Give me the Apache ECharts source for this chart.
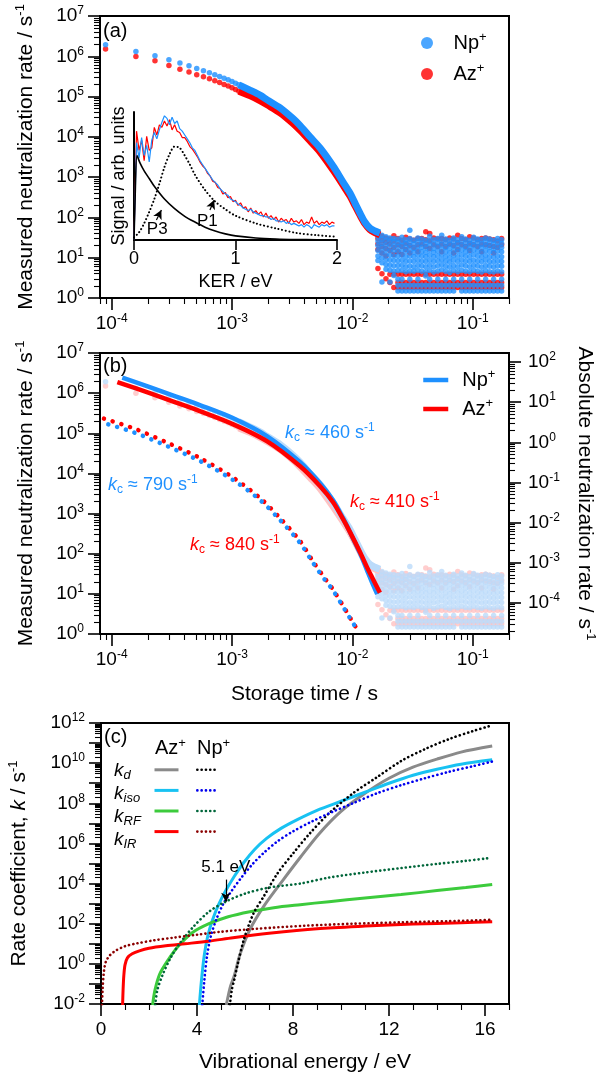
<!DOCTYPE html>
<html>
<head>
<meta charset="utf-8">
<script src="https://cdn.jsdelivr.net/npm/echarts@6/dist/echarts.min.js"></script>
<style>
    html, body { margin: 0; padding: 0; background: #fff; }
    #chart { width: 609px; height: 1080px; }
</style>
</head>
<body>
<div id="chart"></div>
<script>
const FONT = "Liberation Sans, Arial, sans-serif";
const BLACK = "#000";
const NP = "#1E90FF";
const AZ = "#FF0000";
const NP_LIGHT = "#BBDBFA";
const AZ_LIGHT = "#FFC2C2";

// ---- (a)/(b) measured neutralization rate vs storage time ----
const earlyTimes = [8.9e-5, 1.59e-4, 2.29e-4, 2.99e-4, 3.69e-4, 4.39e-4, 5.09e-4, 5.79e-4, 6.49e-4, 7.19e-4, 7.89e-4, 8.59e-4, 9.29e-4, 9.99e-4, 1.069e-3, 1.139e-3];
const npEarly = [1.93e6, 1.32e6, 1.03e6, 8.2e5, 6.8e5, 5.8e5, 4.94e5, 4.36e5, 3.89e5, 3.5e5, 3.13e5, 2.85e5, 2.6e5, 2.38e5, 2.15e5, 1.96e5];
const azEarly = [1.51e6, 9.9e5, 7.7e5, 5.9e5, 4.8e5, 4.1e5, 3.47e5, 3.09e5, 2.76e5, 2.48e5, 2.22e5, 2.0e5, 1.82e5, 1.66e5, 1.5e5, 1.36e5];

const bandTimes = [1.139e-3, 1.42e-3, 1.72e-3, 1.96e-3, 2.51e-3, 3.22e-3, 3.68e-3, 4.45e-3, 5.39e-3, 6.91e-3, 8.36e-3, 9.55e-3, 1.051e-2, 1.156e-2, 1.272e-2, 1.399e-2, 1.539e-2, 1.693e-2];
const npBand = [1.96e5, 1.43e5, 1.07e5, 8.28e4, 5.24e4, 2.82e4, 1.9e4, 9.95e3, 5.3e3, 1.89e3, 755, 402, 227, 128, 76, 54, 46, 41];
const azBand = [1.36e5, 1.04e5, 7.81e4, 6.22e4, 3.94e4, 2.14e4, 1.45e4, 7.91e3, 4.21e3, 1.5e3, 636, 339, 197, 114, 70, 50, 42, 37];

// background-limited tail: one column of rates per time bin
const noiseTimes = [0.0163, 0.0176, 0.0190, 0.0205, 0.0221, 0.0239, 0.0258, 0.0278, 0.0300, 0.0324, 0.0350, 0.0377, 0.0407, 0.0439, 0.0474, 0.0512, 0.0552, 0.0596, 0.0643, 0.0694, 0.0750, 0.0809, 0.0873, 0.0943, 0.1017, 0.1098, 0.1185, 0.1279, 0.1380, 0.1490, 0.1608, 0.1736];
const npNoise = [
    [41, 33, 26, 20, 15, 11, 8.5],
    [36, 29, 23, 18, 13.5, 10, 7.5, 2.5],
    [33, 27, 21, 16, 12, 9, 6.8, 5.2],
    [31, 26, 20, 15, 11.5, 8.7, 6.5, 4.9, 2.5],
    [30, 25, 19.5, 15, 11.2, 8.5, 6.3, 4.7, 3.6],
    [29, 24, 19, 14.5, 11, 8.4, 6.4, 4.8, 2.9, 2.07, 1.49],
    [32, 25, 20, 15.4, 11.5, 8.7, 6.5, 4.9, 2.9, 2.07, 1.49],
    [28, 23, 18, 14, 10.5, 8, 6, 4.5, 2.07, 1.49],
    [48, 30, 24, 19, 14.5, 11, 8.3, 6.2, 4.7, 2.9, 2.07, 1.49],
    [27, 22, 17, 13.5, 10.5, 8, 6, 4.6, 2.07, 1.49],
    [31, 25, 19.5, 15, 11.5, 8.7, 6.5, 4.9, 2.9, 2.07, 1.49],
    [29, 23, 18, 14, 10.8, 8.2, 6.2, 4.6, 2.07, 1.49],
    [27, 22, 17.5, 13.5, 10.5, 8, 6, 4.5, 3.5, 2.07, 1.49],
    [34, 26, 20.5, 15.4, 11.5, 8.7, 6.5, 4.9, 2.9, 2.07, 1.49],
    [28, 22, 17, 13.5, 10.5, 8, 6, 4.4, 2.07, 1.49],
    [30, 24, 19, 14.5, 11, 8.4, 6.3, 4.7, 2.9, 2.07, 1.49],
    [36, 27, 21, 16, 12, 9, 6.8, 5, 2.07, 1.49],
    [29, 23, 18, 14, 10.7, 8.2, 6.1, 4.6, 2.9, 2.07, 1.49],
    [27, 21.5, 17, 13, 10, 7.7, 5.8, 4.3, 2.07, 1.49],
    [31, 25, 19.5, 15, 11.4, 8.6, 6.4, 4.8, 2.9, 2.07, 1.49],
    [28, 23, 18, 14, 10.6, 8, 6, 4.5, 2.07],
    [33, 26, 20, 15.4, 11.6, 8.8, 6.6, 4.9, 2.9, 2.07, 1.49],
    [29, 23, 18, 14, 10.8, 8.2, 6.2, 4.6, 2.07, 1.49],
    [27, 22, 17.5, 13.6, 10.4, 8, 6, 4.5, 2.9, 2.07, 1.49],
    [32, 25, 20, 15.4, 11.6, 8.7, 6.5, 4.9, 2.07, 1.49],
    [29, 23.5, 18.5, 14.2, 10.8, 8.2, 6.2, 4.6, 2.9, 2.07, 1.49],
    [28, 22, 17.5, 13.5, 10.3, 7.9, 5.9, 4.4, 2.07, 1.49],
    [31, 24.5, 19.5, 15, 11.3, 8.6, 6.4, 4.8, 2.9, 2.07, 1.49],
    [29, 23, 18, 14, 10.6, 8.1, 6.1, 4.5, 2.07, 1.49],
    [27, 22, 17, 13.4, 10.2, 7.8, 5.9, 4.4, 2.9, 2.07, 1.49],
    [30, 24, 19, 14.6, 11, 8.4, 6.3, 4.7, 2.07, 1.49],
    [28, 22.5, 18, 14, 10.6, 8.1, 6.1, 4.5, 2.9, 2.07, 1.49]
];
const azNoise = [
    [38, 30, 22, 16, 5.4],
    [34, 26, 19, 13, 4.0],
    [31, 24, 17, 11, 3.0],
    [29, 22, 15, 3.9, 2.42],
    [35, 26, 18, 12, 3.9, 1.81],
    [30, 21, 14, 3.9, 2.42, 1.81],
    [27, 19, 12, 3.9, 2.42, 1.81],
    [32, 23, 16, 3.9, 2.42, 1.81],
    [29, 20, 13, 3.9, 2.42, 1.81],
    [27, 18, 3.9, 2.42, 1.81],
    [30, 21, 14, 3.9, 2.42, 1.81],
    [30, 22, 3.9, 2.42, 1.81],
    [44, 28, 19, 3.9, 2.42, 1.81],
    [40, 26, 17, 3.9, 2.42, 1.81],
    [31, 21, 3.9, 2.42, 1.81],
    [29, 19, 3.9, 2.42, 1.81],
    [30, 22, 14, 3.9, 2.42, 1.81],
    [28, 19, 3.9, 2.42, 1.81],
    [31, 22, 3.9, 2.42, 1.81],
    [29, 20, 13, 3.9, 2.42, 1.81],
    [36, 24, 16, 3.9, 2.42, 1.81],
    [30, 21, 3.9, 2.42, 1.81],
    [28, 19, 3.9, 2.42, 1.81],
    [33, 23, 15, 3.9, 2.42, 1.81],
    [31, 21, 3.9, 2.42, 1.81],
    [28, 19, 3.9, 2.42, 1.81],
    [30, 22, 14, 3.9, 2.42, 1.81],
    [31, 21, 3.9, 2.42, 1.81],
    [29, 20, 3.9, 2.42, 1.81],
    [28, 19, 13, 3.9, 2.42, 1.81],
    [26, 18, 3.9, 2.42, 1.81],
    [30, 21, 3.9, 2.42, 1.81]
];

// (b) fitted curves
const npFitT = [1.226e-4, 2.10e-4, 3.39e-4, 5.46e-4, 1.025e-3, 1.96e-3, 3.68e-3, 5.39e-3, 6.91e-3, 8.36e-3, 9.55e-3, 1.156e-2, 1.321e-2, 1.453e-2, 1.608e-2];
const npFitR = [2.43e6, 1.39e6, 8.32e5, 4.98e5, 2.36e5, 8.42e4, 1.90e4, 5.70e3, 2.15e3, 768, 345, 103, 39.1, 19.7, 9.89];
const azFitT = [1.115e-4, 2.10e-4, 3.39e-4, 5.46e-4, 1.025e-3, 1.96e-3, 3.68e-3, 5.39e-3, 6.91e-3, 8.36e-3, 9.55e-3, 1.156e-2, 1.321e-2, 1.481e-2, 1.693e-2];
const azFitR = [1.89e6, 9.89e5, 5.90e5, 3.52e5, 1.67e5, 6.32e4, 1.51e4, 4.81e3, 1.92e3, 726, 345, 110, 46.4, 23.4, 10.6];
const kcTimes = [8.63e-5, 1.52e-4, 2.91e-4, 5.46e-4, 1.025e-3, 1.716e-3, 2.51e-3, 3.68e-3, 4.72e-3, 5.93e-3, 6.78e-3, 8.20e-3, 9.19e-3, 1.012e-2, 1.119e-2];
const npKc = [1.80e5, 1.06e5, 4.75e4, 2.01e4, 6.78e3, 2.15e3, 685, 184, 58.3, 22.0, 13.2, 5.27, 2.97, 1.88, 1.12];
const azKc = [2.32e5, 1.33e5, 5.80e4, 2.39e4, 7.82e3, 2.42e3, 768, 206, 63.6, 24.0, 13.9, 5.58, 3.14, 1.93, 1.19];

// inset: KER spectra (arb. units)
const kerSpec = [0, 0.025, 0.05, 0.075, 0.1, 0.125, 0.15, 0.175, 0.2, 0.225, 0.25, 0.275, 0.3, 0.325, 0.35, 0.375, 0.4, 0.425, 0.45, 0.475, 0.5, 0.525, 0.55, 0.575, 0.6, 0.625, 0.65, 0.675, 0.7, 0.725, 0.75, 0.775, 0.8, 0.825, 0.85, 0.875, 0.9, 0.925, 0.95, 0.975, 1.0, 1.025, 1.05, 1.075, 1.1, 1.125, 1.15, 1.175, 1.2, 1.225, 1.25, 1.275, 1.3, 1.325, 1.35, 1.375, 1.4, 1.425, 1.45, 1.475, 1.5, 1.525, 1.55, 1.575, 1.6, 1.625, 1.65, 1.675, 1.7, 1.725, 1.75, 1.775, 1.8, 1.825, 1.85, 1.875, 1.9, 1.925, 1.95, 1.975];
const npSpec = [0, 0.76, 0.64, 0.80, 0.66, 0.74, 0.61, 0.78, 0.84, 0.79, 0.86, 0.92, 0.97, 0.95, 0.90, 0.96, 0.91, 0.93, 0.87, 0.85, 0.82, 0.79, 0.76, 0.72, 0.70, 0.66, 0.62, 0.59, 0.56, 0.53, 0.50, 0.47, 0.45, 0.43, 0.40, 0.38, 0.36, 0.35, 0.32, 0.31, 0.30, 0.28, 0.27, 0.25, 0.24, 0.23, 0.24, 0.22, 0.21, 0.20, 0.19, 0.19, 0.18, 0.18, 0.16, 0.17, 0.15, 0.15, 0.14, 0.15, 0.13, 0.14, 0.12, 0.13, 0.12, 0.11, 0.12, 0.10, 0.12, 0.11, 0.09, 0.12, 0.11, 0.10, 0.12, 0.11, 0.12, 0.10, 0.11, 0.11];
const azSpec = [0, 0.85, 0.70, 0.78, 0.62, 0.81, 0.70, 0.72, 0.88, 0.82, 0.90, 0.88, 0.93, 0.89, 0.94, 0.86, 0.90, 0.85, 0.84, 0.80, 0.80, 0.77, 0.73, 0.71, 0.68, 0.65, 0.61, 0.58, 0.56, 0.52, 0.50, 0.46, 0.45, 0.41, 0.40, 0.36, 0.37, 0.33, 0.34, 0.30, 0.31, 0.27, 0.29, 0.25, 0.26, 0.22, 0.25, 0.21, 0.23, 0.20, 0.22, 0.18, 0.21, 0.17, 0.19, 0.16, 0.18, 0.14, 0.17, 0.15, 0.16, 0.13, 0.17, 0.14, 0.15, 0.13, 0.16, 0.12, 0.14, 0.13, 0.18, 0.13, 0.15, 0.12, 0.14, 0.13, 0.15, 0.12, 0.14, 0.13];
const kerP3 = [0, 0.01, 0.03, 0.06, 0.1, 0.15, 0.2, 0.3, 0.4, 0.5, 0.6, 0.7, 0.8, 0.9, 1.0, 1.2, 1.4, 1.6, 1.8, 2.0];
const p3Curve = [0, 0.3, 0.66, 0.60, 0.54, 0.48, 0.42, 0.32, 0.245, 0.185, 0.14, 0.10, 0.07, 0.048, 0.032, 0.016, 0.008, 0.004, 0.002, 0.001];
const kerP1 = [0, 0.05, 0.1, 0.15, 0.2, 0.25, 0.3, 0.35, 0.4, 0.45, 0.5, 0.55, 0.6, 0.7, 0.8, 0.9, 1.0, 1.2, 1.4, 1.6, 1.8, 2.0];
const p1Curve = [0.02, 0.06, 0.13, 0.22, 0.32, 0.44, 0.57, 0.67, 0.73, 0.72, 0.66, 0.59, 0.51, 0.39, 0.30, 0.24, 0.19, 0.13, 0.09, 0.055, 0.038, 0.025];

// ---- (c) rate coefficients, log10(k / s^-1) vs vibrational energy (eV) ----
const kdAzE = [5.22, 5.3, 5.4, 5.55, 5.8, 6.2, 6.8, 7.6, 8.3, 9.1, 10, 11, 12, 13, 14, 15, 16.3];
const kdAzLog = [-2.05, -1.6, -1.1, -0.6, 0.5, 1.7, 2.9, 4.2, 5.3, 6.5, 7.6, 8.5, 9.25, 9.8, 10.2, 10.55, 10.85];
const kdNpE = [5.37, 5.45, 5.55, 5.7, 5.95, 6.35, 6.8, 7.35, 8.0, 8.7, 9.5, 10.5, 11.5, 12.5, 13.5, 14.5, 15.5, 16.2];
const kdNpLog = [-2.05, -1.3, -0.8, 0.0, 1.2, 2.5, 3.4, 4.5, 5.5, 6.5, 7.5, 8.5, 9.3, 10.1, 10.7, 11.2, 11.6, 11.85];
const kIsoAzE = [4.1, 4.18, 4.3, 4.45, 4.65, 4.9, 5.2, 5.55, 5.95, 6.4, 6.9, 7.5, 8.2, 9.0, 10, 11, 12, 13, 14, 15, 16.3];
const kIsoAzLog = [-2.05, -0.9, 0.4, 1.4, 2.2, 2.95, 3.65, 4.35, 5.05, 5.7, 6.25, 6.75, 7.2, 7.65, 8.1, 8.55, 9.0, 9.4, 9.7, 9.95, 10.17];
const kIsoNpE = [4.22, 4.3, 4.42, 4.58, 4.8, 5.1, 5.45, 5.85, 6.3, 6.8, 7.35, 8.0, 8.8, 9.6, 10.5, 11.5, 12.5, 13.5, 14.5, 15.5, 16.3];
const kIsoNpLog = [-2.05, -0.9, 0.4, 1.4, 2.2, 3.0, 3.65, 4.3, 4.95, 5.55, 6.1, 6.6, 7.1, 7.55, 8.0, 8.5, 8.9, 9.25, 9.57, 9.85, 10.08];
const kRfAzE = [2.15, 2.25, 2.45, 2.8, 3.2, 3.8, 4.5, 5.3, 6.2, 7.2, 8.3, 9.5, 11, 12.5, 14, 15.2, 16.3];
const kRfAzLog = [-2.05, -1.3, -0.5, 0.2, 0.85, 1.55, 2.0, 2.35, 2.6, 2.8, 2.95, 3.1, 3.28, 3.45, 3.65, 3.8, 3.95];
const kRfNpE = [2.26, 2.35, 2.55, 2.9, 3.3, 3.85, 4.5, 5.2, 6.0, 7.0, 8.3, 9.5, 11, 12.5, 14, 15.2, 16.2];
const kRfNpLog = [-2.05, -1.3, -0.6, 0.3, 1.05, 1.85, 2.6, 3.1, 3.5, 3.8, 4.0, 4.3, 4.55, 4.77, 4.98, 5.13, 5.27];
const kIrAzE = [0.9, 0.92, 0.95, 1.0, 1.1, 1.3, 1.6, 2.0, 2.7, 3.5, 4.5, 5.5, 7, 9, 11, 13, 15, 16.3];
const kIrAzLog = [-2.05, -1.3, -0.6, -0.05, 0.3, 0.5, 0.65, 0.78, 0.9, 1.0, 1.13, 1.3, 1.52, 1.75, 1.88, 1.98, 2.05, 2.1];
const kIrNpE = [0.04, 0.07, 0.12, 0.2, 0.35, 0.6, 1.0, 1.5, 2.2, 3.0, 4.0, 5.0, 6.5, 8.5, 10.5, 12.5, 14.5, 16.2];
const kIrNpLog = [-2.05, -1.2, -0.4, 0.1, 0.4, 0.65, 0.88, 1.02, 1.17, 1.3, 1.45, 1.6, 1.75, 1.9, 2.0, 2.07, 2.13, 2.19];

// tick positions
const timeDecades = [-4, -3, -2, -1];
const rateDecades = [0, 1, 2, 3, 4, 5, 6, 7];
const absDecades = [-4, -3, -2, -1, 0, 1, 2];
const kDecades = [-2, -1, 0, 1, 2, 3, 4, 5, 6, 7, 8, 9, 10, 11, 12];
const kLabelDecades = [-2, 0, 2, 4, 6, 8, 10, 12];
const energyMajor = [0, 4, 8, 12, 16];
const energyMinor = [1, 2, 3, 5, 6, 7, 9, 10, 11, 13, 14, 15, 17];

const pow10 = e => Number("1e" + e);
const pairs = (xs, ys) => xs.map((x, i) => [x, ys[i]]);
const columns = (ts, cols) => {
    const out = [];
    ts.forEach((t, i) => cols[i].forEach(r => out.push([t, r])));
    return out;
};
const fromLog = (xs, logs) => xs.map((x, i) => [x, Math.pow(10, logs[i])]);
function logMinors(lo, hi) {
    const out = [];
    for (let e = -6; e <= 13; e++) {
        for (let m = 2; m <= 9; m++) {
            const v = Number(m + "e" + e);
            if (v >= lo * 0.999 && v <= hi * 1.001) out.push(v);
        }
    }
    return out;
}

const labelRich = {
    b: { fontSize: 19, lineHeight: 22, fontFamily: FONT, color: BLACK },
    sup: { fontSize: 12, lineHeight: 12, verticalAlign: "top", fontFamily: FONT, color: BLACK }
};
const nameStyle = {
    color: BLACK, fontFamily: FONT, fontSize: 21, lineHeight: 24,
    rich: {
        sup: { fontSize: 13, lineHeight: 13, verticalAlign: "top", fontFamily: FONT, color: BLACK },
        i: { fontSize: 21, lineHeight: 24, fontStyle: "italic", fontFamily: FONT, color: BLACK }
    }
};
const powLabel = v => "{b|10}{sup|" + Math.round(Math.log10(v)) + "}";

function majorAxis(o) {
    return {
        type: o.type || "log",
        logBase: 10,
        gridIndex: o.grid,
        position: o.position,
        min: o.min,
        max: o.max,
        name: o.name || "",
        nameLocation: "middle",
        nameGap: o.nameGap || 0,
        nameRotate: o.nameRotate,
        nameTextStyle: nameStyle,
        axisLine: { show: true, onZero: false, lineStyle: { color: BLACK, width: 2 } },
        axisTick: { show: true, inside: false, length: 12, customValues: o.ticks, lineStyle: { color: BLACK, width: 1.6 } },
        axisLabel: {
            show: true, margin: o.margin, customValues: o.labels, formatter: o.formatter || powLabel,
            color: BLACK, fontFamily: FONT, fontSize: 19, rich: labelRich
        },
        splitLine: { show: false },
        minorTick: { show: false },
        minorSplitLine: { show: false }
    };
}
function minorAxis(o) {
    return {
        type: o.type || "log",
        logBase: 10,
        gridIndex: o.grid,
        position: o.position,
        min: o.min,
        max: o.max,
        axisLine: { show: false, onZero: false },
        axisTick: { show: true, inside: false, length: 6, customValues: o.ticks, lineStyle: { color: BLACK, width: 1.1 } },
        axisLabel: { show: false },
        splitLine: { show: false }
    };
}
function dots(name, xi, yi, data, color, size) {
    return { name, type: "scatter", xAxisIndex: xi, yAxisIndex: yi, data, symbol: "circle", symbolSize: size, itemStyle: { color }, silent: true };
}
function curve(name, xi, yi, data, color, width, dash, extra) {
    return Object.assign({
        name, type: "line", xAxisIndex: xi, yAxisIndex: yi, data,
        symbol: "none", showSymbol: false, smooth: 0.3, silent: true,
        lineStyle: { color, width, type: dash || "solid", cap: dash ? "round" : "butt" },
        itemStyle: { color }
    }, extra || {});
}

const T_MIN = 8e-5, T_MAX = 0.2;
const ABS_MIN = 1.675e-5, ABS_MAX = 167.5;
const supText = { sup: { fontSize: 13, lineHeight: 13, verticalAlign: "top", color: BLACK, fontFamily: FONT } };

const option = {
    animation: false,
    backgroundColor: "#fff",
    textStyle: { fontFamily: FONT, color: BLACK },
    grid: [
        { left: 100, top: 16, width: 409, height: 282, show: true, borderColor: BLACK, borderWidth: 2, containLabel: false, outerBoundsMode: "none" },
        { left: 134, top: 112, width: 203, height: 128, show: false, containLabel: false, outerBoundsMode: "none" },
        { left: 100, top: 353, width: 409, height: 281, show: true, borderColor: BLACK, borderWidth: 2, containLabel: false, outerBoundsMode: "none" },
        { left: 101, top: 723, width: 408, height: 281, show: true, borderColor: BLACK, borderWidth: 2, containLabel: false, outerBoundsMode: "none" }
    ],
    xAxis: [
        majorAxis({ grid: 0, position: "bottom", min: T_MIN, max: T_MAX, ticks: timeDecades.map(pow10), labels: timeDecades.map(pow10), margin: 15 }),
        minorAxis({ grid: 0, position: "bottom", min: T_MIN, max: T_MAX, ticks: logMinors(T_MIN, T_MAX) }),
        {
            type: "value", gridIndex: 1, position: "bottom", min: 0, max: 2, interval: 1,
            name: "KER / eV", nameLocation: "middle", nameGap: 33,
            nameTextStyle: { color: BLACK, fontFamily: FONT, fontSize: 18 },
            axisLine: { show: true, onZero: false, lineStyle: { color: BLACK, width: 2 } },
            axisTick: { show: true, length: 10, lineStyle: { color: BLACK, width: 1.6 } },
            axisLabel: { color: BLACK, fontFamily: FONT, fontSize: 18, margin: 10 },
            splitLine: { show: false }
        },
        majorAxis({ grid: 2, position: "bottom", min: T_MIN, max: T_MAX, ticks: timeDecades.map(pow10), labels: timeDecades.map(pow10), margin: 15, name: "Storage time / s", nameGap: 48 }),
        minorAxis({ grid: 2, position: "bottom", min: T_MIN, max: T_MAX, ticks: logMinors(T_MIN, T_MAX) }),
        majorAxis({ type: "value", grid: 3, position: "bottom", min: 0, max: 17, ticks: energyMajor, labels: energyMajor, margin: 15, formatter: v => "{b|" + v + "}", name: "Vibrational energy / eV", nameGap: 46 }),
        minorAxis({ type: "value", grid: 3, position: "bottom", min: 0, max: 17, ticks: energyMinor })
    ],
    yAxis: [
        majorAxis({ grid: 0, position: "left", min: 1, max: 1e7, ticks: rateDecades.map(pow10), labels: rateDecades.map(pow10), margin: 16, name: "Measured neutralization rate / s{sup|-1}", nameGap: 62 }),
        minorAxis({ grid: 0, position: "left", min: 1, max: 1e7, ticks: logMinors(1, 1e7) }),
        {
            type: "value", gridIndex: 1, position: "left", min: 0, max: 1,
            name: "Signal / arb. units", nameLocation: "middle", nameGap: 6,
            nameTextStyle: { color: BLACK, fontFamily: FONT, fontSize: 18 },
            axisLine: { show: true, onZero: false, lineStyle: { color: BLACK, width: 2 } },
            axisTick: { show: false },
            axisLabel: { show: false },
            splitLine: { show: false }
        },
        majorAxis({ grid: 2, position: "left", min: 1, max: 1e7, ticks: rateDecades.map(pow10), labels: rateDecades.map(pow10), margin: 16, name: "Measured neutralization rate / s{sup|-1}", nameGap: 62 }),
        minorAxis({ grid: 2, position: "left", min: 1, max: 1e7, ticks: logMinors(1, 1e7) }),
        majorAxis({ grid: 2, position: "right", min: ABS_MIN, max: ABS_MAX, ticks: absDecades.map(pow10), labels: absDecades.map(pow10), margin: 19, name: "Absolute neutralization rate / s{sup|-1}", nameGap: 64, nameRotate: -90 }),
        minorAxis({ grid: 2, position: "right", min: ABS_MIN, max: ABS_MAX, ticks: logMinors(ABS_MIN, ABS_MAX) }),
        majorAxis({ grid: 3, position: "left", min: 1e-2, max: 1e12, ticks: kDecades.map(pow10), labels: kLabelDecades.map(pow10), margin: 16, name: "Rate coefficient, {i|k} / s{sup|-1}", nameGap: 70 }),
        minorAxis({ grid: 3, position: "left", min: 1e-2, max: 1e12, ticks: logMinors(1e-2, 1e12) })
    ],
    legend: [
        {
            data: ["Np+", "Az+"], orient: "vertical", left: 421, top: 31, padding: 0, itemGap: 7,
            icon: "circle", itemWidth: 25, itemHeight: 12, selectedMode: false,
            formatter: n => n.replace("+", "{sup|+}"),
            textStyle: { color: BLACK, fontFamily: FONT, fontSize: 20, lineHeight: 24, padding: [0, 0, 0, 9], rich: supText }
        },
        {
            data: ["npFit", "azFit"], orient: "vertical", left: 421, top: 368, padding: 0, itemGap: 5,
            itemWidth: 25, itemHeight: 14, selectedMode: false,
            lineStyle: { width: "inherit" }, itemStyle: { opacity: 0 },
            formatter: n => (n === "npFit" ? "Np" : "Az") + "{sup|+}",
            textStyle: { color: BLACK, fontFamily: FONT, fontSize: 20, lineHeight: 24, padding: [0, 0, 0, 9], rich: supText }
        },
        {
            data: ["kdAz", "kIsoAz", "kRfAz", "kIrAz"], orient: "vertical", left: 153, top: 765, padding: 0, itemGap: 11,
            itemWidth: 24, itemHeight: 12, selectedMode: false,
            lineStyle: { width: "inherit" }, itemStyle: { opacity: 0 },
            formatter: () => "", textStyle: { fontSize: 1, lineHeight: 1 }
        },
        {
            data: ["kdNp", "kIsoNp", "kRfNp", "kIrNp"], orient: "vertical", left: 196, top: 765, padding: 0, itemGap: 11,
            itemWidth: 21, itemHeight: 12, selectedMode: false,
            lineStyle: { width: "inherit" }, itemStyle: { opacity: 0 },
            formatter: () => "", textStyle: { fontSize: 1, lineHeight: 1 }
        }
    ],
    graphic: [],
    series: []
};

// panel labels and annotations
const txt = (left, top, text, size, fill, rich) => ({
    type: "text", left, top, silent: true,
    style: { text, fill: fill || BLACK, fontSize: size, fontFamily: FONT, lineHeight: 22, rich: rich || {} }
});
const kcRich = color => ({
    k: { fontStyle: "italic", fontSize: 18, lineHeight: 22, fontFamily: FONT, color },
    c: { fontSize: 12, lineHeight: 12, verticalAlign: "bottom", fontFamily: FONT, color },
    sup: { fontSize: 12, lineHeight: 12, verticalAlign: "top", fontFamily: FONT, color }
});
const kRich = {
    k: { fontStyle: "italic", fontSize: 19, lineHeight: 22, fontFamily: FONT, color: BLACK },
    s: { fontStyle: "italic", fontSize: 13, lineHeight: 13, verticalAlign: "bottom", fontFamily: FONT, color: BLACK }
};
option.graphic = [
    txt(103, 20, "(a)", 20),
    txt(103, 355, "(b)", 20),
    txt(104, 726, "(c)", 20),
    txt(285, 422, "{k|k}{c|c} ≈ 460 s{sup|-1}", 18, NP, kcRich(NP)),
    txt(108, 474, "{k|k}{c|c} ≈ 790 s{sup|-1}", 18, NP, kcRich(NP)),
    txt(190, 534, "{k|k}{c|c} ≈ 840 s{sup|-1}", 18, AZ, kcRich(AZ)),
    txt(350, 491, "{k|k}{c|c} ≈ 410 s{sup|-1}", 18, AZ, kcRich(AZ)),
    txt(155, 737, "Az{sup|+}", 20, BLACK, supText),
    txt(197, 737, "Np{sup|+}", 20, BLACK, supText),
    txt(114, 760, "{k|k}{s|d}", 19, BLACK, kRich),
    txt(114, 783, "{k|k}{s|iso}", 19, BLACK, kRich),
    txt(114, 806, "{k|k}{s|RF}", 19, BLACK, kRich),
    txt(114, 829, "{k|k}{s|IR}", 19, BLACK, kRich)
];

const npNoiseData = columns(noiseTimes, npNoise);
const azNoiseData = columns(noiseTimes, azNoise);
const markArrow = { symbol: ["none", "arrow"], symbolSize: [7, 9], silent: true, lineStyle: { color: BLACK, width: 1.2, type: "solid" } };

option.series = [
    // (a)
    dots("Az+", 0, 0, pairs(earlyTimes, azEarly), AZ, 5.5),
    curve("azBand", 0, 0, pairs(bandTimes, azBand), AZ, 7),
    dots("azNoise", 0, 0, azNoiseData, AZ, 5.5),
    dots("Np+", 0, 0, pairs(earlyTimes, npEarly), NP, 5.5),
    curve("npBand", 0, 0, pairs(bandTimes, npBand), NP, 7),
    dots("npNoise", 0, 0, npNoiseData, NP, 5.5),
    // inset
    curve("azSpec", 2, 2, pairs(kerSpec, azSpec), AZ, 1.2, null, { smooth: false }),
    curve("npSpec", 2, 2, pairs(kerSpec, npSpec), NP, 1.2, null, { smooth: false }),
    curve("p3", 2, 2, pairs(kerP3, p3Curve), BLACK, 1.6, null, {
        markLine: Object.assign({ data: [[{ coord: [0.221, 0.156] }, { coord: [0.27, 0.234] }], [{ coord: [0.748, 0.234] }, { coord: [0.79, 0.312] }]], label: { show: false } }, markArrow),
        markPoint: {
            symbol: "circle", symbolSize: 1, itemStyle: { color: "rgba(0,0,0,0)" }, silent: true,
            label: { show: true, position: "inside", formatter: p => p.name, color: BLACK, fontFamily: FONT, fontSize: 17 },
            data: [{ name: "P3", coord: [0.229, 0.086] }, { name: "P1", coord: [0.723, 0.148] }]
        }
    }),
    curve("p1", 2, 2, pairs(kerP1, p1Curve), BLACK, 2, [0.1, 3.6]),
    // (b)
    dots("azLight", 3, 3, pairs(earlyTimes, azEarly), AZ_LIGHT, 5.5),
    curve("azLightBand", 3, 3, pairs(bandTimes, azBand), AZ_LIGHT, 7),
    dots("azLightNoise", 3, 3, azNoiseData, AZ_LIGHT, 5.5),
    dots("npLight", 3, 3, pairs(earlyTimes, npEarly), NP_LIGHT, 5.5),
    curve("npLightBand", 3, 3, pairs(bandTimes, npBand), NP_LIGHT, 7),
    dots("npLightNoise", 3, 3, npNoiseData, NP_LIGHT, 5.5),
    curve("azKc", 3, 3, pairs(kcTimes, azKc), AZ, 4.5, [0.1, 9]),
    curve("npKc", 3, 3, pairs(kcTimes, npKc), NP, 4.5, [0.1, 9], { lineStyle: { color: NP, width: 4.5, type: [0.1, 9], cap: "round", dashOffset: 4.5 } }),
    curve("npFit", 3, 3, pairs(npFitT, npFitR), NP, 4.5),
    curve("azFit", 3, 3, pairs(azFitT, azFitR), AZ, 4.5),
    // (c)
    curve("kdAz", 5, 7, fromLog(kdAzE, kdAzLog), "#8A8A8A", 3),
    curve("kIsoAz", 5, 7, fromLog(kIsoAzE, kIsoAzLog), "#18C2F2", 3, null, {
        markLine: Object.assign({
            data: [[{ coord: [5.2, 15800] }, { coord: [5.2, 1260] }]],
            label: { show: true, position: "start", distance: 4, formatter: "5.1 eV", color: BLACK, fontFamily: FONT, fontSize: 17 }
        }, markArrow)
    }),
    curve("kRfAz", 5, 7, fromLog(kRfAzE, kRfAzLog), "#3CCB3C", 3),
    curve("kIrAz", 5, 7, fromLog(kIrAzE, kIrAzLog), "#FF0000", 3),
    curve("kdNp", 5, 7, fromLog(kdNpE, kdNpLog), BLACK, 2.6, [0.1, 4.2]),
    curve("kIsoNp", 5, 7, fromLog(kIsoNpE, kIsoNpLog), "#0000EE", 2.6, [0.1, 4.2]),
    curve("kRfNp", 5, 7, fromLog(kRfNpE, kRfNpLog), "#00663A", 2.6, [0.1, 4.2]),
    curve("kIrNp", 5, 7, fromLog(kIrNpE, kIrNpLog), "#8B0000", 2.6, [0.1, 4.2])
];

const chart = echarts.init(document.getElementById("chart"));
chart.setOption(option);
</script>
</body>
</html>
